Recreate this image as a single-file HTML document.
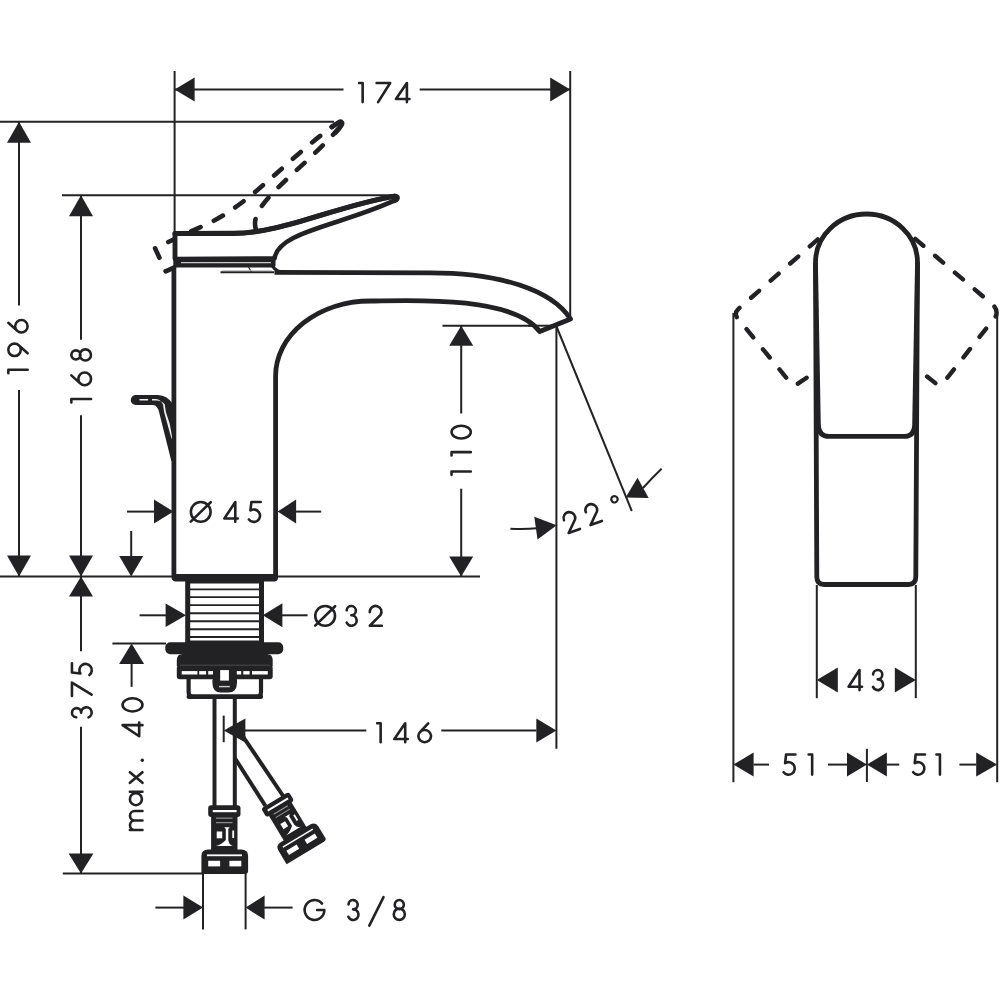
<!DOCTYPE html>
<html><head><meta charset="utf-8"><title>Basin mixer dimensions</title>
<style>
html,body{margin:0;padding:0;background:#fff;}
body{width:1000px;height:1000px;overflow:hidden;font-family:"Liberation Sans",sans-serif;}
svg{display:block;}
</style></head>
<body>
<svg width="1000" height="1000" viewBox="0 0 1000 1000">
<defs>
<path id="g49" d="M1.15,1.15 H4.65 V20.85" fill="none" stroke-width="2.6" stroke-linecap="round" stroke-linejoin="round"/>
<path id="g50" d="M1.3,7.2 A5.85,5.85 0 1 1 11.9,10.3 L1.3,20.85 H13.35" fill="none" stroke-width="2.6" stroke-linecap="round" stroke-linejoin="round"/>
<path id="g51" d="M1.5,5.4 A4.6,4.6 0 1 1 6.1,10.35 A5.25,5.25 0 1 1 1.4,17.7" fill="none" stroke-width="2.6" stroke-linecap="round" stroke-linejoin="round"/>
<path id="g52" d="M12.1,20.85 V1.15 L1.15,17.6 H14.65" fill="none" stroke-width="2.6" stroke-linecap="round" stroke-linejoin="round"/>
<path id="g53" d="M13.2,1.15 H3.9 L2.9,9.6 A6.2,6.2 0 1 1 1.4,18.6" fill="none" stroke-width="2.6" stroke-linecap="round" stroke-linejoin="round"/>
<path id="g54" d="M11,1.15 L2.79,10.25 M13.85,14.5 A6.35,6.35 0 1 1 1.15,14.5 A6.35,6.35 0 1 1 13.85,14.5" fill="none" stroke-width="2.6" stroke-linecap="round" stroke-linejoin="round"/>
<path id="g55" d="M1.15,1.15 H14.65 L2.6,20.85" fill="none" stroke-width="2.6" stroke-linecap="round" stroke-linejoin="round"/>
<path id="g56" d="M11.25,5.7 A4.55,4.55 0 1 1 2.15,5.7 A4.55,4.55 0 1 1 11.25,5.7 M12.25,15.2 A5.55,5.55 0 1 1 1.15,15.2 A5.55,5.55 0 1 1 12.25,15.2" fill="none" stroke-width="2.6" stroke-linecap="round" stroke-linejoin="round"/>
<path id="g57" d="M4,20.85 L12.21,11.75 M13.85,7.5 A6.35,6.35 0 1 1 1.15,7.5 A6.35,6.35 0 1 1 13.85,7.5" fill="none" stroke-width="2.6" stroke-linecap="round" stroke-linejoin="round"/>
<path id="g48" d="M14.15,11 A6.5,9.85 0 1 1 1.15,11 A6.5,9.85 0 1 1 14.15,11" fill="none" stroke-width="2.6" stroke-linecap="round" stroke-linejoin="round"/>
<path id="g79" d="M21.1,11 A9.85,9.85 0 1 1 1.4,11 A9.85,9.85 0 1 1 21.1,11 M1.3,20.7 L21.2,1.3" fill="none" stroke-width="2.6" stroke-linecap="round" stroke-linejoin="round"/>
<path id="g71" d="M18.95,4.67 A9.85,9.85 0 1 0 21.25,11 H14" fill="none" stroke-width="2.6" stroke-linecap="round" stroke-linejoin="round"/>
<path id="g109" d="M1.15,8.4 V20.85 M1.15,13.2 A4.7,4.7 0 0 1 10.55,13.2 V20.85 M10.55,13.2 A4.7,4.7 0 0 1 19.95,13.2 V20.85" fill="none" stroke-width="2.6" stroke-linecap="round" stroke-linejoin="round"/>
<path id="g97" d="M13.1,14.35 A5.95,5.95 0 1 1 1.2,14.35 A5.95,5.95 0 1 1 13.1,14.35 M14.45,8.4 V20.85" fill="none" stroke-width="2.6" stroke-linecap="round" stroke-linejoin="round"/>
<path id="g120" d="M1.15,8.4 L11.65,20.85 M11.65,8.4 L1.15,20.85" fill="none" stroke-width="2.6" stroke-linecap="round" stroke-linejoin="round"/>
</defs>
<rect width="1000" height="1000" fill="#fff"/>
<g stroke="#222224" fill="none" stroke-linejoin="round">
<line x1="174.6" y1="71" x2="174.6" y2="268" stroke-width="2" />
<line x1="570.2" y1="71" x2="570.2" y2="318" stroke-width="2" />
<line x1="174.6" y1="89.5" x2="343.5" y2="89.5" stroke-width="2" />
<line x1="419.7" y1="89.5" x2="570.2" y2="89.5" stroke-width="2" />
<polygon points="174.6,89.5 194.6,77.5 194.6,101.5" fill="#222224" stroke="none"/>
<polygon points="570.2,89.5 550.2,77.5 550.2,101.5" fill="#222224" stroke="none"/>
<line x1="0" y1="121.7" x2="334" y2="121.7" stroke-width="2" />
<line x1="19" y1="121.7" x2="19" y2="305.6" stroke-width="2" />
<line x1="19" y1="390" x2="19" y2="576.5" stroke-width="2" />
<polygon points="19,121.7 7,142.7 31,142.7" fill="#222224" stroke="none"/>
<polygon points="19,576.5 7,555.5 31,555.5" fill="#222224" stroke="none"/>
<line x1="62" y1="195.2" x2="393" y2="195.2" stroke-width="2" />
<line x1="81" y1="195.2" x2="81" y2="339.8" stroke-width="2" />
<line x1="81" y1="415.2" x2="81" y2="651.2" stroke-width="2" />
<line x1="81" y1="726.8" x2="81" y2="873.5" stroke-width="2" />
<polygon points="81,195.2 69,216.2 93,216.2" fill="#222224" stroke="none"/>
<polygon points="81,576.5 69,555.5 93,555.5" fill="#222224" stroke="none"/>
<polygon points="81,576.5 69,596.5 93,596.5" fill="#222224" stroke="none"/>
<polygon points="81,873.5 68.6,853.5 93.4,853.5" fill="#222224" stroke="none"/>
<line x1="0" y1="576.5" x2="480" y2="576.5" stroke-width="2" />
<line x1="442.5" y1="325.7" x2="556" y2="325.7" stroke-width="2" />
<line x1="461.2" y1="325.7" x2="461.2" y2="413.5" stroke-width="2" />
<line x1="461.2" y1="488.7" x2="461.2" y2="576.5" stroke-width="2" />
<polygon points="461.2,325.7 449.2,345.7 473.2,345.7" fill="#222224" stroke="none"/>
<polygon points="461.2,576.5 449.2,556.5 473.2,556.5" fill="#222224" stroke="none"/>
<line x1="127" y1="511.6" x2="155" y2="511.6" stroke-width="2" />
<polygon points="173.5,511.6 154,499.6 154,523.6" fill="#222224" stroke="none"/>
<polygon points="277.6,511.6 296.1,499.6 296.1,523.6" fill="#222224" stroke="none"/>
<line x1="296" y1="511.6" x2="321.2" y2="511.6" stroke-width="2" />
<line x1="131.2" y1="531" x2="131.2" y2="556" stroke-width="2" />
<polygon points="131.2,576.5 119.2,556 143.2,556" fill="#222224" stroke="none"/>
<line x1="112.4" y1="643.6" x2="166" y2="643.6" stroke-width="2" />
<polygon points="131.6,643.6 119.1,664.1 144.1,664.1" fill="#222224" stroke="none"/>
<line x1="131.6" y1="663" x2="131.6" y2="686.8" stroke-width="2" />
<line x1="139.6" y1="615.3" x2="166" y2="615.3" stroke-width="2" />
<polygon points="186,615.3 165.6,603.5 165.6,627.1" fill="#222224" stroke="none"/>
<polygon points="262.8,615.3 282.4,603.3 282.4,627.3" fill="#222224" stroke="none"/>
<line x1="282" y1="615.3" x2="307.6" y2="615.3" stroke-width="2" />
<line x1="62.8" y1="873.5" x2="203" y2="873.5" stroke-width="2" />
<line x1="223.7" y1="715.6" x2="223.7" y2="742.2" stroke-width="2" />
<line x1="556.4" y1="326.4" x2="556.4" y2="748.8" stroke-width="2" />
<line x1="245" y1="730.5" x2="366.3" y2="730.5" stroke-width="2" />
<line x1="441.3" y1="730.5" x2="536.3" y2="730.5" stroke-width="2" />
<polygon points="223.7,730.5 245.4,718.6 245.4,742.4" fill="#222224" stroke="none"/>
<polygon points="556.4,730.5 536.3,718.6 536.3,742.4" fill="#222224" stroke="none"/>
<line x1="203" y1="873" x2="203" y2="929.4" stroke-width="2" />
<line x1="245.6" y1="873" x2="245.6" y2="929.4" stroke-width="2" />
<line x1="155.4" y1="907.6" x2="184" y2="907.6" stroke-width="2" />
<polygon points="203,907.6 183.4,895.6 183.4,919.6" fill="#222224" stroke="none"/>
<polygon points="245.6,907.6 264.6,895.6 264.6,919.6" fill="#222224" stroke="none"/>
<line x1="264" y1="907.6" x2="292.6" y2="907.6" stroke-width="2" />
<line x1="369.3" y1="925.6" x2="383.5" y2="897.1" stroke-width="2.6" stroke-linecap="round"/>
<line x1="556.7" y1="327" x2="631.8" y2="511" stroke-width="2" />
<path d="M510.4,528.8 Q525,529.5 537,528.3" stroke-width="2" fill="none" />
<polygon points="556.7,525.2 537.5,539.51 534.3,516.73" fill="#222224" stroke="none"/>
<path d="M661.6,468.8 Q652,478 643,488" stroke-width="2" fill="none" />
<polygon points="625.6,497.6 637.52,477.85 648.67,497.96" fill="#222224" stroke="none"/>
<line x1="733.4" y1="313" x2="733.4" y2="782.2" stroke-width="2" />
<line x1="997.2" y1="313" x2="997.2" y2="782.2" stroke-width="2" />
<line x1="816.8" y1="585" x2="816.8" y2="698.2" stroke-width="2" />
<line x1="915.8" y1="585" x2="915.8" y2="698.2" stroke-width="2" />
<polygon points="816.8,680 837.8,667.4 837.8,692.6" fill="#222224" stroke="none"/>
<polygon points="915.8,680 894.8,667.4 894.8,692.6" fill="#222224" stroke="none"/>
<line x1="866.9" y1="748.8" x2="866.9" y2="782" stroke-width="2" />
<polygon points="733.4,764.6 753.6,752.6 753.6,776.6" fill="#222224" stroke="none"/>
<line x1="753.6" y1="764.6" x2="769" y2="764.6" stroke-width="2" />
<line x1="828" y1="764.6" x2="847" y2="764.6" stroke-width="2" />
<polygon points="866.9,764.6 847,752.6 847,776.6" fill="#222224" stroke="none"/>
<polygon points="866.9,764.6 886.9,752.6 886.9,776.6" fill="#222224" stroke="none"/>
<line x1="886.9" y1="764.6" x2="899.2" y2="764.6" stroke-width="2" />
<line x1="959.4" y1="764.6" x2="976.2" y2="764.6" stroke-width="2" />
<polygon points="997.2,764.6 976.2,752.6 976.2,776.6" fill="#222224" stroke="none"/>
<path d="M815.5,262.5 A51,48.5 0 0 1 917.5,262.5 L915.8,577 Q915.8,584.5 908.3,584.5 H824.3 Q816.8,584.5 816.8,577 Z" stroke-width="4.8" fill="#fff" />
<path d="M815.5,262.5 L818.4,426 Q819.2,436.4 829,436.4 H904.5 Q913.8,436.4 914.6,426 L917.5,262.5" stroke-width="4.8" fill="none" />
<path d="M820.5,237 L738.5,308.8 Q734,313 737,317.5 L791,383.5 Q793.4,386.7 796.8,384.4 L810,375.4" stroke-width="4.4" fill="none" stroke-dasharray="10.6 15.4" stroke-dashoffset="22.35" stroke-linecap="round"/>
<path d="M912.5,236.5 L993,305 Q998,309.5 996,316 L944,382 Q941,386.5 936.5,384 L924.5,374.5" stroke-width="4.4" fill="none" stroke-dasharray="10.6 15.4" stroke-dashoffset="22.35" stroke-linecap="round"/>
<path d="M200,259 H175 V233.5 L232,233.4 C280.3,233.9 336.3,206 394,196.2 Q398,195.6 397.5,198.2 Q397,200.4 393,201.2" stroke-width="4.6" fill="none" stroke-dasharray="10.4 14.77" stroke-dashoffset="10.37" stroke-linecap="round" transform="translate(-3.46,0.95) rotate(-24.77 198 278)"/>
<path d="M393,201.2 C337.5,226.3 278,231.9 274.5,258.5" stroke-width="4.6" fill="none" stroke-dasharray="10.4 14.77" stroke-dashoffset="0.8" stroke-linecap="round" transform="translate(-3.46,0.95) rotate(-24.77 198 278)"/>
<path d="M386,197.4 Q398,195.6 397.5,198.2 Q397,200.4 387,204.3" stroke-width="4.6" fill="none" stroke-linecap="round" transform="translate(-3.46,0.95) rotate(-24.77 198 278)"/>
<path d="M174.6,267 V578 H275.6 V376 A95,75 0 0 1 370.6,301 C395.9,301 512,293.8 539.7,331.5 L570.5,319 C552,290 500,272.8 430,272.8 L274.5,272.4 Z" stroke-width="0" fill="#fff" stroke="none"/>
<path d="M274.5,272.4 L430,272.8 C500,272.8 552,290 570.5,319 L539.7,331.5 C512,293.8 395.9,301 370.6,301 A95,75 0 0 0 275.6,376 V578 H173.9 V267" stroke-width="4.8" fill="none" />
<line x1="528" y1="325.7" x2="556.4" y2="325.7" stroke-width="2" />
<path d="M175,259 V233.5 L232,233.4 C280.3,233.9 336.3,206 394,196.2 Q398,195.6 397.5,198.2 Q397,200.4 393,201.2 C337.5,226.3 278,231.9 274.5,258.5 Z" stroke-width="4.6" fill="#fff" />
<path d="M175,233.5 L232,233.4 C280.3,233.9 336.3,206 394,196.2" stroke-width="5.2" fill="none" stroke-linecap="round"/>
<path d="M175,259 V233.5" stroke-width="4.4" fill="none" />
<rect x="173.5" y="257" width="102" height="10.5" rx="2.5" fill="#222224" stroke="none"/>
<line x1="181" y1="262.6" x2="271" y2="262.6" stroke-width="1.4" stroke="#c8c8c8"/>
<line x1="220.5" y1="272.3" x2="274" y2="272.3" stroke-width="2" />
<path d="M272,265.5 Q276,272.2 285,272.4" stroke-width="3.2" fill="none" />
<line x1="248.5" y1="267" x2="251.5" y2="272" stroke-width="1.2" />
<line x1="222" y1="270.6" x2="272" y2="270.6" stroke-width="0.9" stroke="#bbb"/>
<rect x="172.5" y="574" width="105" height="7.5" rx="3" fill="#222224" stroke="none"/>
<path d="M135.8,394.9 H158 Q167,395.2 172.5,403.5 V461 L171.3,461 L159.3,413 Q157.8,405.3 153,405 H135.8 A5.05,5.05 0 0 1 135.8,394.9 Z" fill="#222224" stroke="none"/>
<rect x="139.3" y="399" width="9" height="1.6" rx="0.8" fill="#eee" stroke="none"/>
<path d="M152,399 L156,399 Q160.5,399.4 163,404.5 L164.1,412 L167.4,424 L170.7,436 L171.8,439.5 L171.9,436 L169.8,424 L165.9,412 L164.8,404.5 Q162,400.6 156,400.6 L152,400.6 Z" fill="#eee" stroke="none"/>
<rect x="187.7" y="581" width="73.8" height="62" fill="#fff" stroke-width="5"/>
<line x1="190" y1="589.4" x2="259.2" y2="589.4" stroke-width="1.9" />
<line x1="190" y1="597.1" x2="259.2" y2="597.1" stroke-width="1.9" />
<line x1="190" y1="605.1" x2="259.2" y2="605.1" stroke-width="1.9" />
<line x1="190" y1="613.2" x2="259.2" y2="613.2" stroke-width="1.9" />
<line x1="190" y1="621.2" x2="259.2" y2="621.2" stroke-width="1.9" />
<line x1="190" y1="629.2" x2="259.2" y2="629.2" stroke-width="1.9" />
<line x1="190" y1="637" x2="259.2" y2="637" stroke-width="1.9" />
<rect x="165.3" y="642.2" width="117.9" height="12" rx="5" fill="#222224" stroke="none"/>
<path d="M176.8,666 V660 Q176.8,654 182.8,654 H266.7 Q272.7,654 272.7,660 V666 Z" fill="#222224" stroke="none"/>
<path d="M188.6,677 V692 Q188.6,697 193.6,697 H256 Q261,697 261,692 V677" stroke-width="4.2" fill="#fff" />
<rect x="186.6" y="694.3" width="76.4" height="4.8" rx="2" fill="#222224" stroke="none"/>
<rect x="176.8" y="665" width="95.9" height="14.2" rx="3" fill="#222224" stroke="none"/>
<line x1="180" y1="665.2" x2="270" y2="665.2" stroke-width="0.8" stroke="#555"/>
<rect x="181.7" y="671.1" width="15.7" height="3.4" fill="#fff" stroke="none"/>
<rect x="199.2" y="671.1" width="6.9" height="3.4" fill="#fff" stroke="none"/>
<rect x="208.2" y="671.1" width="6.6" height="3.4" fill="#fff" stroke="none"/>
<rect x="234" y="671.1" width="7.2" height="3.4" fill="#fff" stroke="none"/>
<rect x="243.3" y="671.1" width="6.3" height="3.4" fill="#fff" stroke="none"/>
<rect x="252" y="671.1" width="15.8" height="3.4" fill="#fff" stroke="none"/>
<rect x="213" y="668" width="23.8" height="13" fill="#222224" stroke="none"/>
<rect x="220.2" y="670.1" width="8.7" height="10.5" fill="#fff" stroke="none"/>
<path d="M212.4,679.5 H237 V682.5 Q237,692.6 228.5,692.6 H220.9 Q212.4,692.6 212.4,682.5 Z" fill="#222224" stroke="none"/>
<rect x="220.2" y="679" width="8.7" height="1.6" fill="#fff" stroke="none"/>
<line x1="219" y1="686.6" x2="229.8" y2="686.6" stroke-width="1.4" stroke="#ccc"/>
<line x1="214.5" y1="698" x2="214.5" y2="806" stroke-width="4" />
<line x1="234.8" y1="698" x2="234.8" y2="806" stroke-width="4" />
<g transform="">
<rect x="208.2" y="805.2" width="32.3" height="11.9" rx="3" fill="#222224" stroke="none"/>
<rect x="212.8" y="810" width="23.8" height="2.2" fill="#fff" stroke="none"/>
<rect x="211.1" y="816.5" width="26.4" height="34" fill="#222224" stroke="none"/>
<rect x="216" y="817.6" width="16.5" height="1.1" fill="#999" stroke="none"/>
<rect x="216" y="822.1" width="16.5" height="1.1" fill="#999" stroke="none"/>
<rect x="216.7" y="831.5" width="5.5" height="6.8" fill="#fff" stroke="none"/>
<rect x="232.3" y="830.5" width="1.8" height="7.5" fill="#fff" stroke="none"/>
<path d="M224.3,827.3 H229.8 L228.3,829 V840 Q229,845 232.8,846 H215.8 Q221,845 225.8,840 V829 Z" fill="#fff" stroke="none"/>
<path d="M201.4,874 V856 Q201.4,849.4 208,849.4 H241.5 Q248.1,849.4 248.1,856 V871 Q248.1,874 245,874 Z" fill="#222224" stroke="none"/>
<rect x="207" y="854.4" width="35" height="1.8" fill="#fff" stroke="none"/>
<rect x="208.2" y="860.8" width="11.9" height="5.6" fill="#fff" stroke="none"/>
<rect x="229.4" y="860.8" width="11.9" height="5.6" fill="#fff" stroke="none"/>
</g>
<line x1="234.8" y1="758" x2="265.5" y2="806" stroke-width="4" />
<line x1="234.8" y1="724.3" x2="283.5" y2="796.5" stroke-width="4" />
<g transform="translate(301,842.8) rotate(-31) scale(1,0.885) translate(-224.75,-861.7)">
<rect x="208.2" y="805.2" width="32.3" height="11.9" rx="3" fill="#222224" stroke="none"/>
<rect x="212.8" y="810" width="23.8" height="2.2" fill="#fff" stroke="none"/>
<rect x="211.1" y="816.5" width="26.4" height="34" fill="#222224" stroke="none"/>
<rect x="216" y="817.6" width="16.5" height="1.1" fill="#999" stroke="none"/>
<rect x="216" y="822.1" width="16.5" height="1.1" fill="#999" stroke="none"/>
<rect x="216.7" y="831.5" width="5.5" height="6.8" fill="#fff" stroke="none"/>
<rect x="232.3" y="830.5" width="1.8" height="7.5" fill="#fff" stroke="none"/>
<path d="M224.3,827.3 H229.8 L228.3,829 V840 Q229,845 232.8,846 H215.8 Q221,845 225.8,840 V829 Z" fill="#fff" stroke="none"/>
<path d="M201.4,874 V856 Q201.4,849.4 208,849.4 H241.5 Q248.1,849.4 248.1,856 V871 Q248.1,874 245,874 Z" fill="#222224" stroke="none"/>
<rect x="207" y="854.4" width="35" height="1.8" fill="#fff" stroke="none"/>
<rect x="208.2" y="860.8" width="11.9" height="5.6" fill="#fff" stroke="none"/>
<rect x="229.4" y="860.8" width="11.9" height="5.6" fill="#fff" stroke="none"/>
</g>
<use href="#g49" transform="translate(358,81.9) scale(1,0.97)"/>
<use href="#g55" transform="translate(375.5,81.9) scale(1,0.97)"/>
<use href="#g52" transform="translate(394.8,81.9) scale(1,0.97)"/>
<use href="#g49" transform="translate(7.2,374.4) rotate(-90) scale(0.98)"/>
<use href="#g57" transform="translate(7.2,357.2) rotate(-90) scale(0.98)"/>
<use href="#g54" transform="translate(7.2,333.6) rotate(-90) scale(0.98)"/>
<use href="#g49" transform="translate(70.2,403.6) rotate(-90) scale(1)"/>
<use href="#g54" transform="translate(70.2,386.4) rotate(-90) scale(1)"/>
<use href="#g56" transform="translate(70.2,361.6) rotate(-90) scale(1)"/>
<use href="#g49" transform="translate(450.4,476) rotate(-90) scale(0.98)"/>
<use href="#g49" transform="translate(450.4,456.7) rotate(-90) scale(0.98)"/>
<use href="#g48" transform="translate(450.4,439.6) rotate(-90) scale(0.98)"/>
<use href="#g79" transform="translate(189.5,500.9) scale(1,1)"/>
<use href="#g52" transform="translate(223.2,500.9) scale(1,1)"/>
<use href="#g53" transform="translate(247.5,500.9) scale(1,1)"/>
<use href="#g79" transform="translate(313.9,604.9) scale(1,1)"/>
<use href="#g51" transform="translate(345.2,604.9) scale(1,1)"/>
<use href="#g50" transform="translate(368.5,604.9) scale(1,1)"/>
<use href="#g51" transform="translate(70.8,718.8) rotate(-90) scale(1)"/>
<use href="#g55" transform="translate(70.8,697.2) rotate(-90) scale(1)"/>
<use href="#g53" transform="translate(70.8,676.4) rotate(-90) scale(1)"/>
<use href="#g109" transform="translate(121.4,831.2) rotate(-90) scale(1.01)"/>
<use href="#g97" transform="translate(121.4,806.4) rotate(-90) scale(1.01)"/>
<use href="#g120" transform="translate(121.4,784) rotate(-90) scale(1.01)"/>
<use href="#g52" transform="translate(121.4,737.4) rotate(-90) scale(1.01)"/>
<use href="#g48" transform="translate(121.4,712.6) rotate(-90) scale(1.01)"/>
<circle cx="142.3" cy="760.2" r="1.7" fill="#222224" stroke="none"/>
<use href="#g49" transform="translate(376,722.2) scale(1,0.96)"/>
<use href="#g52" transform="translate(393.1,722.2) scale(1,0.96)"/>
<use href="#g54" transform="translate(417.2,722.2) scale(1,0.96)"/>
<use href="#g71" transform="translate(303.1,898.9) scale(1,1.01)"/>
<use href="#g51" transform="translate(347,898.9) scale(1,1.01)"/>
<use href="#g56" transform="translate(392.6,898.9) scale(1,1.01)"/>
<use href="#g52" transform="translate(847.4,668.8) scale(1,1.02)"/>
<use href="#g51" transform="translate(871.6,668.8) scale(1,1.02)"/>
<use href="#g53" transform="translate(782.2,753.3) scale(1,1.02)"/>
<use href="#g49" transform="translate(807.5,753.3) scale(1,1.02)"/>
<use href="#g53" transform="translate(911.8,753.3) scale(1,1.02)"/>
<use href="#g49" transform="translate(935.3,753.3) scale(1,1.02)"/>
<g transform="translate(560.3,513.9) rotate(-20)">
<use href="#g50" transform="translate(0,0)"/>
<use href="#g50" transform="translate(23.3,0)"/>
<circle cx="55.9" cy="4.8" r="3.2" stroke-width="2.2"/>
</g>
</g>
</svg>
</body></html>
